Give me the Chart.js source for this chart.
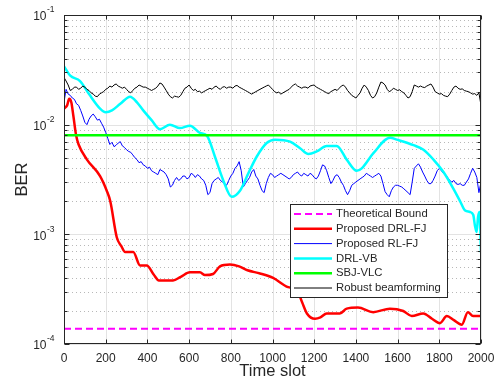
<!DOCTYPE html>
<html lang="en">
<head>
  <meta charset="UTF-8">
  <title>BER vs Time slot</title>
  <script src="https://cdn.jsdelivr.net/npm/chart.js"></script>
  <style>
    body { margin: 0; background: #fff; }
    canvas { display: block; }
  </style>
</head>
<body>
  <canvas id="berChart" width="498" height="390"></canvas>
  <script>
    // values
    const boundSlots = [0, 2000];
    const boundBER = [1.38e-4, 1.38e-4];

    const sbjSlots = [0, 2000];
    const sbjBER = [8e-3, 8e-3];

    const drlfjSlots = [0, 15, 25, 35, 45, 58, 70, 110, 173, 205, 222, 253, 275, 293, 332, 365, 397, 430, 455, 523, 560, 604, 652, 676, 715, 748, 796, 840, 880, 940, 1003, 1075, 1117, 1142, 1165, 1204, 1230, 1260, 1323, 1356, 1410, 1483, 1563, 1627, 1668, 1723, 1765, 1803, 1836, 1870, 1908, 1937, 1962, 2000];
    const drlfjBER = [1.4e-2, 1.5e-2, 1.72e-2, 1.6e-2, 1.2e-2, 8e-3, 6.6e-3, 4.8e-3, 3.4e-3, 2.5e-3, 2.0e-3, 9.4e-4, 7.8e-4, 6.9e-4, 6.9e-4, 5.2e-4, 5.2e-4, 4.3e-4, 3.8e-4, 3.8e-4, 4.1e-4, 4.5e-4, 4.5e-4, 4.25e-4, 4.35e-4, 5.1e-4, 5.3e-4, 5.1e-4, 4.7e-4, 4.4e-4, 4.0e-4, 3.3e-4, 3.1e-4, 2.4e-4, 1.9e-4, 1.7e-4, 1.75e-4, 1.9e-4, 1.9e-4, 2.1e-4, 2.15e-4, 1.95e-4, 2.1e-4, 2.0e-4, 1.8e-4, 1.9e-4, 1.7e-4, 1.55e-4, 1.8e-4, 1.65e-4, 1.5e-4, 1.95e-4, 1.8e-4, 1.8e-4];

    const drlvbSlots = [0, 30, 77, 120, 173, 200, 230, 270, 317, 350, 380, 420, 460, 508, 556, 604, 652, 686, 724, 764, 804, 844, 884, 924, 972, 1012, 1084, 1132, 1172, 1212, 1260, 1308, 1356, 1404, 1428, 1484, 1564, 1596, 1676, 1724, 1772, 1820, 1868, 1900, 1924, 1947, 1963, 1971, 1979, 1986, 1993, 2000];
    const drlvbBER = [3.4e-2, 2.8e-2, 2.5e-2, 1.9e-2, 1.4e-2, 1.3e-2, 1.35e-2, 1.55e-2, 1.8e-2, 1.6e-2, 1.35e-2, 1.1e-2, 9.1e-3, 1.0e-2, 9.3e-3, 9.8e-3, 8.4e-3, 7.9e-3, 5.1e-3, 3.1e-3, 2.2e-3, 2.5e-3, 3.6e-3, 5.1e-3, 6.8e-3, 7.3e-3, 7.0e-3, 6.1e-3, 5.4e-3, 5.7e-3, 6.4e-3, 6.4e-3, 4.8e-3, 3.8e-3, 4.0e-3, 5.5e-3, 7.6e-3, 7.3e-3, 6.5e-3, 5.9e-3, 4.8e-3, 3.7e-3, 2.6e-3, 2.0e-3, 1.65e-3, 1.6e-3, 1.5e-3, 1.2e-3, 1.05e-3, 1.45e-3, 1.6e-3, 6.8e-4];

    // RL-FJ and robust beamforming are sampled every 10 slots
    const noisySlots = [
      0, 10, 20, 30, 40, 50, 60, 70, 80, 90, 100, 110, 120, 130, 140, 150, 160, 170, 180, 190,
      200, 210, 220, 230, 240, 250, 260, 270, 280, 290, 300, 310, 320, 330, 340, 350, 360, 370, 380, 390,
      400, 410, 420, 430, 440, 450, 460, 470, 480, 490, 500, 510, 520, 530, 540, 550, 560, 570, 580, 590,
      600, 610, 620, 630, 640, 650, 660, 670, 680, 690, 700, 710, 720, 730, 740, 750, 760, 770, 780, 790,
      800, 810, 820, 830, 840, 850, 860, 870, 880, 890, 900, 910, 920, 930, 940, 950, 960, 970, 980, 990,
      1000, 1010, 1020, 1030, 1040, 1050, 1060, 1070, 1080, 1090, 1100, 1110, 1120, 1130, 1140, 1150, 1160, 1170, 1180, 1190,
      1200, 1210, 1220, 1230, 1240, 1250, 1260, 1270, 1280, 1290, 1300, 1310, 1320, 1330, 1340, 1350, 1360, 1370, 1380, 1390,
      1400, 1410, 1420, 1430, 1440, 1450, 1460, 1470, 1480, 1490, 1500, 1510, 1520, 1530, 1540, 1550, 1560, 1570, 1580, 1590,
      1600, 1610, 1620, 1630, 1640, 1650, 1660, 1670, 1680, 1690, 1700, 1710, 1720, 1730, 1740, 1750, 1760, 1770, 1780, 1790,
      1800, 1810, 1820, 1830, 1840, 1850, 1860, 1870, 1880, 1890, 1900, 1910, 1920, 1930, 1940, 1950, 1960, 1970, 1980, 1990,
      2000];

    const rlfjBER = [
      1.6e-2, 2.1e-2, 1.9e-2, 1.85e-2, 1.75e-2, 1.7e-2, 1.55e-2, 1.5e-2, 1.35e-2, 1.2e-2, 1.05e-2, 1.0e-2, 1.12e-2, 1.2e-2, 1.25e-2, 1.18e-2, 1.1e-2, 1.12e-2, 1.03e-2, 9.5e-3,
      8.5e-3, 7.5e-3, 6.6e-3, 6.9e-3, 6.3e-3, 6.5e-3, 6.8e-3, 7.0e-3, 6.4e-3, 6.2e-3, 5.9e-3, 5.7e-3, 5.6e-3, 5.3e-3, 5.0e-3, 4.8e-3, 4.5e-3, 4.6e-3, 4.3e-3, 4.2e-3,
      4.0e-3, 4.1e-3, 3.8e-3, 3.7e-3, 3.6e-3, 3.5e-3, 3.9e-3, 3.8e-3, 3.7e-3, 3.5e-3, 3.2e-3, 2.7e-3, 2.8e-3, 3.1e-3, 3.3e-3, 3.1e-3, 3.2e-3, 3.4e-3, 3.4e-3, 3.2e-3,
      3.3e-3, 3.6e-3, 3.5e-3, 3.3e-3, 3.5e-3, 3.4e-3, 3.2e-3, 3.1e-3, 2.8e-3, 2.3e-3, 2.4e-3, 2.9e-3, 3.1e-3, 3.2e-3, 3.3e-3, 3.1e-3, 3.0e-3, 2.9e-3, 2.8e-3, 3.1e-3,
      3.4e-3, 3.6e-3, 4.0e-3, 4.2e-3, 4.6e-3, 3.8e-3, 2.7e-3, 2.9e-3, 3.1e-3, 3.3e-3, 3.7e-3, 3.9e-3, 3.4e-3, 3.2e-3, 2.8e-3, 2.5e-3, 2.4e-3, 2.9e-3, 3.3e-3, 3.6e-3,
      3.5e-3, 3.3e-3, 3.4e-3, 3.5e-3, 3.6e-3, 3.5e-3, 3.4e-3, 3.3e-3, 3.2e-3, 3.3e-3, 3.5e-3, 3.6e-3, 3.7e-3, 3.5e-3, 3.4e-3, 3.6e-3, 3.5e-3, 3.4e-3, 3.6e-3, 3.5e-3,
      3.3e-3, 3.2e-3, 3.4e-3, 3.8e-3, 4.3e-3, 4.2e-3, 3.8e-3, 3.3e-3, 2.9e-3, 3.1e-3, 3.4e-3, 3.5e-3, 3.3e-3, 3.0e-3, 2.8e-3, 2.5e-3, 2.3e-3, 2.5e-3, 2.8e-3, 2.9e-3,
      3.0e-3, 3.1e-3, 3.2e-3, 3.3e-3, 3.4e-3, 3.6e-3, 3.5e-3, 3.4e-3, 3.3e-3, 3.4e-3, 3.5e-3, 3.6e-3, 3.4e-3, 2.9e-3, 2.45e-3, 2.3e-3, 2.2e-3, 2.5e-3, 2.7e-3, 2.8e-3,
      2.8e-3, 2.75e-3, 2.7e-3, 2.6e-3, 2.5e-3, 2.4e-3, 2.3e-3, 3.0e-3, 4.0e-3, 4.2e-3, 4.4e-3, 4.1e-3, 3.7e-3, 3.4e-3, 3.1e-3, 2.9e-3, 2.9e-3, 3.1e-3, 3.4e-3, 3.8e-3,
      4.0e-3, 3.8e-3, 3.6e-3, 3.5e-3, 3.3e-3, 3.1e-3, 3.0e-3, 3.1e-3, 2.9e-3, 2.85e-3, 2.9e-3, 2.8e-3, 2.8e-3, 3.0e-3, 3.2e-3, 3.6e-3, 4.0e-3, 3.7e-3, 3.3e-3, 2.4e-3,
      3.0e-3];

    const robustBER = [
      2.7e-2, 2.5e-2, 2.3e-2, 2.05e-2, 2.1e-2, 2.2e-2, 2.2e-2, 2.1e-2, 2.15e-2, 2.25e-2, 2.2e-2, 2.1e-2, 2.05e-2, 1.95e-2, 1.9e-2, 1.82e-2, 1.8e-2, 1.9e-2, 1.95e-2, 2.0e-2,
      2.1e-2, 2.15e-2, 2.25e-2, 2.2e-2, 2.3e-2, 2.35e-2, 2.25e-2, 2.2e-2, 2.15e-2, 2.2e-2, 2.1e-2, 2.0e-2, 1.95e-2, 2.05e-2, 2.15e-2, 2.2e-2, 2.3e-2, 2.25e-2, 2.2e-2, 2.2e-2,
      2.15e-2, 2.1e-2, 2.05e-2, 2.1e-2, 2.15e-2, 2.25e-2, 2.4e-2, 2.35e-2, 2.2e-2, 2.05e-2, 1.9e-2, 1.8e-2, 1.75e-2, 1.82e-2, 1.8e-2, 1.78e-2, 1.85e-2, 2.0e-2, 2.15e-2, 2.2e-2,
      2.3e-2, 2.15e-2, 2.05e-2, 2.1e-2, 2.0e-2, 2.02e-2, 1.95e-2, 2.0e-2, 2.05e-2, 2.1e-2, 2.15e-2, 2.1e-2, 2.2e-2, 2.25e-2, 2.15e-2, 2.1e-2, 2.2e-2, 2.22e-2, 2.15e-2, 2.2e-2,
      2.2e-2, 2.15e-2, 2.25e-2, 2.28e-2, 2.2e-2, 2.15e-2, 2.1e-2, 2.05e-2, 2.0e-2, 1.95e-2, 1.9e-2, 1.95e-2, 2.0e-2, 2.05e-2, 2.1e-2, 2.15e-2, 2.2e-2, 2.25e-2, 2.3e-2, 2.2e-2,
      2.1e-2, 2.0e-2, 1.95e-2, 1.98e-2, 1.9e-2, 1.95e-2, 2.0e-2, 2.05e-2, 2.1e-2, 2.2e-2, 2.3e-2, 2.35e-2, 2.25e-2, 2.2e-2, 2.15e-2, 2.2e-2, 2.2e-2, 2.15e-2, 2.25e-2, 2.28e-2,
      2.3e-2, 2.2e-2, 2.15e-2, 2.1e-2, 2.05e-2, 2.0e-2, 1.95e-2, 1.92e-2, 2.0e-2, 2.05e-2, 2.1e-2, 2.05e-2, 2.15e-2, 2.25e-2, 2.3e-2, 2.2e-2, 2.05e-2, 1.95e-2, 1.85e-2, 1.8e-2,
      1.75e-2, 1.85e-2, 1.95e-2, 2.15e-2, 2.3e-2, 2.2e-2, 2.05e-2, 1.85e-2, 1.75e-2, 1.8e-2, 1.95e-2, 2.2e-2, 2.45e-2, 2.4e-2, 2.3e-2, 2.1e-2, 2.0e-2, 2.05e-2, 2.15e-2, 2.1e-2,
      2.05e-2, 2.08e-2, 2.0e-2, 1.95e-2, 1.85e-2, 1.75e-2, 1.8e-2, 2.0e-2, 2.3e-2, 2.25e-2, 2.2e-2, 2.25e-2, 2.2e-2, 2.18e-2, 2.25e-2, 2.3e-2, 2.35e-2, 2.2e-2, 2.0e-2, 1.95e-2,
      1.9e-2, 1.92e-2, 1.85e-2, 1.82e-2, 1.8e-2, 1.9e-2, 2.05e-2, 2.2e-2, 2.25e-2, 2.15e-2, 2.1e-2, 2.12e-2, 2.05e-2, 2.02e-2, 2.0e-2, 1.95e-2, 1.9e-2, 1.92e-2, 1.85e-2, 1.95e-2,
      1.5e-2];

    const xTicks = [0, 200, 400, 600, 800, 1000, 1200, 1400, 1600, 1800, 2000];
    const yDecades = [1e-4, 1e-3, 1e-2, 1e-1];
    const yExponents = ['-4', '-3', '-2', '-1'];

    const FONT = "'Liberation Sans', Arial, sans-serif";
    const AXIS_COLOR = '#262626';

    function toPoints(slots, values) {
      return slots.map((t, i) => ({ x: t, y: values[i] }));
    }

    // MATLAB-like axes box, grid, ticks, labels and legend
    const matlabFrame = {
      id: 'matlabFrame',
      beforeDatasetsDraw(chart) {
        const { ctx, chartArea: a, scales: { x, y } } = chart;
        ctx.save();
        ctx.lineWidth = 1;
        // minor y grid (dotted)
        ctx.strokeStyle = '#b8b8b8';
        ctx.setLineDash([1, 3]);
        yDecades.slice(0, -1).forEach(d => {
          for (let k = 2; k <= 9; k++) {
            const py = Math.round(y.getPixelForValue(k * d)) + 0.5;
            ctx.beginPath();
            ctx.moveTo(a.left, py);
            ctx.lineTo(a.right, py);
            ctx.stroke();
          }
        });
        // major grid
        ctx.setLineDash([]);
        ctx.strokeStyle = '#e3e3e3';
        xTicks.forEach(t => {
          const px = Math.round(x.getPixelForValue(t)) + 0.5;
          ctx.beginPath();
          ctx.moveTo(px, a.top);
          ctx.lineTo(px, a.bottom);
          ctx.stroke();
        });
        yDecades.forEach(d => {
          const py = Math.round(y.getPixelForValue(d)) + 0.5;
          ctx.beginPath();
          ctx.moveTo(a.left, py);
          ctx.lineTo(a.right, py);
          ctx.stroke();
        });
        ctx.restore();
      },
      afterDatasetsDraw(chart) {
        const { ctx, chartArea: a, scales: { x, y } } = chart;
        ctx.save();
        ctx.lineWidth = 1;
        ctx.strokeStyle = AXIS_COLOR;
        const L = Math.round(a.left) + 0.5, R = Math.round(a.right) - 0.5;
        const T = Math.round(a.top) + 0.5, B = Math.round(a.bottom) - 0.5;
        ctx.strokeRect(L, T, R - L, B - T);

        // inward ticks
        ctx.beginPath();
        xTicks.forEach(t => {
          const px = Math.round(x.getPixelForValue(t)) + 0.5;
          ctx.moveTo(px, B); ctx.lineTo(px, B - 4);
          ctx.moveTo(px, T); ctx.lineTo(px, T + 4);
        });
        yDecades.forEach((d, i) => {
          const py = Math.round(y.getPixelForValue(d)) + 0.5;
          ctx.moveTo(L, py); ctx.lineTo(L + 5, py);
          ctx.moveTo(R, py); ctx.lineTo(R - 5, py);
          if (i < yDecades.length - 1) {
            for (let k = 2; k <= 9; k++) {
              const qy = Math.round(y.getPixelForValue(k * d)) + 0.5;
              ctx.moveTo(L, qy); ctx.lineTo(L + 3, qy);
              ctx.moveTo(R, qy); ctx.lineTo(R - 3, qy);
            }
          }
        });
        ctx.stroke();

        // tick labels
        ctx.fillStyle = AXIS_COLOR;
        ctx.font = '12px ' + FONT;
        ctx.textAlign = 'center';
        ctx.textBaseline = 'middle';
        xTicks.forEach(t => {
          ctx.fillText(String(t), x.getPixelForValue(t), a.bottom + 15);
        });
        yDecades.forEach((d, i) => {
          const py = y.getPixelForValue(d);
          ctx.font = '12px ' + FONT;
          ctx.textAlign = 'right';
          ctx.fillText('10', 46.5, py + 2);
          ctx.font = '8.5px ' + FONT;
          ctx.textAlign = 'left';
          ctx.fillText(yExponents[i], 47, py - 5);
        });

        // axis titles
        ctx.font = '16.5px ' + FONT;
        ctx.textAlign = 'center';
        ctx.fillText('Time slot', (a.left + a.right) / 2, 371);
        ctx.save();
        ctx.translate(22, (a.top + a.bottom) / 2);
        ctx.rotate(-Math.PI / 2);
        ctx.fillText('BER', 0, 0);
        ctx.restore();

        // legend box inside the axes
        const box = { left: 290.5, top: 204.5, width: 157, height: 93 };
        ctx.fillStyle = '#ffffff';
        ctx.fillRect(box.left, box.top, box.width, box.height);
        ctx.strokeStyle = AXIS_COLOR;
        ctx.lineWidth = 1;
        ctx.strokeRect(box.left, box.top, box.width, box.height);
        ctx.font = '11.3px ' + FONT;
        ctx.textAlign = 'left';
        ctx.textBaseline = 'middle';
        chart.data.datasets.forEach((ds, i) => {
          const ry = 214 + i * 14.8;
          ctx.save();
          ctx.strokeStyle = ds.borderColor;
          ctx.lineWidth = ds.borderWidth;
          ctx.setLineDash(ds.borderDash || []);
          ctx.beginPath();
          ctx.moveTo(294, ry);
          ctx.lineTo(332, ry);
          ctx.stroke();
          ctx.restore();
          ctx.fillStyle = AXIS_COLOR;
          ctx.fillText(ds.label, 336, ry);
        });
        ctx.restore();
      }
    };

    function createBerChart() {
      const ctx = document.getElementById('berChart').getContext('2d');
      new Chart(ctx, {
        type: 'line',
        data: {
          datasets: [
            { label: 'Theoretical Bound', data: toPoints(boundSlots, boundBER), borderColor: '#ff00ff', borderWidth: 2, borderDash: [7, 4], order: 6 },
            { label: 'Proposed DRL-FJ', data: toPoints(drlfjSlots, drlfjBER), borderColor: '#ff0000', borderWidth: 2.5, cubicInterpolationMode: 'monotone', order: 5 },
            { label: 'Proposed RL-FJ', data: toPoints(noisySlots, rlfjBER), borderColor: '#0000ff', borderWidth: 1, order: 4 },
            { label: 'DRL-VB', data: toPoints(drlvbSlots, drlvbBER), borderColor: '#00ffff', borderWidth: 2.5, cubicInterpolationMode: 'monotone', order: 3 },
            { label: 'SBJ-VLC', data: toPoints(sbjSlots, sbjBER), borderColor: '#00ff00', borderWidth: 2.5, order: 2 },
            { label: 'Robust beamforming', data: toPoints(noisySlots, robustBER), borderColor: '#000000', borderWidth: 1, order: 1 }
          ]
        },
        options: {
          responsive: false,
          animation: false,
          layout: { padding: { left: 64, right: 17, top: 15, bottom: 46 } },
          elements: { point: { radius: 0 }, line: { tension: 0, fill: false } },
          plugins: { legend: { display: false }, tooltip: { enabled: false } },
          scales: {
            x: { type: 'linear', min: 0, max: 2000, display: false },
            y: { type: 'logarithmic', min: 1e-4, max: 1e-1, display: false }
          }
        },
        plugins: [matlabFrame]
      });
    }

    document.addEventListener('DOMContentLoaded', () => {
      createBerChart();
    });
  </script>
</body>
</html>
